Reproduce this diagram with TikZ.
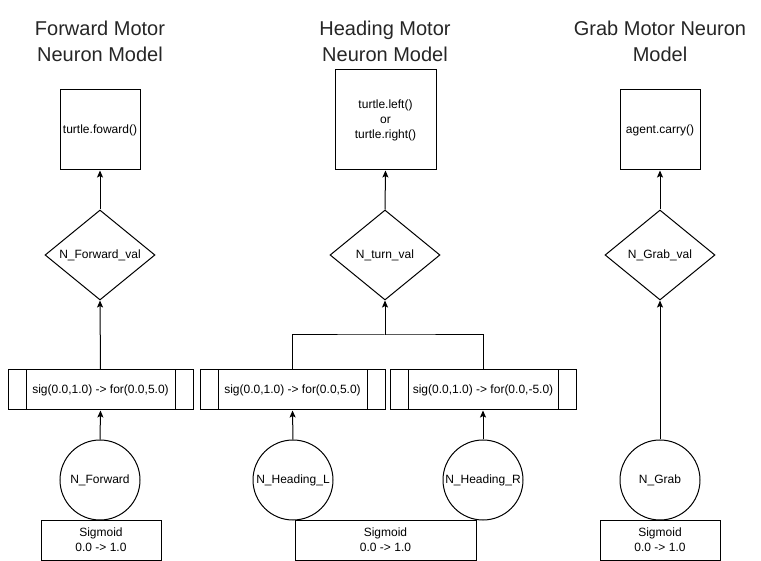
\documentclass[tikz,border=0pt]{standalone}
\usepackage{fontspec}
\setmainfont{Liberation Sans}
\usetikzlibrary{shapes.geometric,arrows.meta}
\tikzset{
  base/.style={draw=black,line width=1pt,inner sep=0pt,align=center,font=\fontsize{12}{15}\selectfont},
  title/.style={align=center,font=\fontsize{20}{26}\selectfont,text=black!85},
  outbox/.style={base,rectangle},
  valnode/.style={base,diamond,aspect=1.22,minimum width=110pt,minimum height=90pt},
  procbox/.style={base,rectangle,minimum height=40pt},
  neuron/.style={base,circle,minimum size=80pt},
  sigbox/.style={base,rectangle,minimum height=40pt},
  conn/.style={line width=1pt,draw=black},
  arr/.style={conn,-{Stealth[length=7pt,width=6pt,inset=1.5pt]}}
}
\begin{document}
\begin{tikzpicture}[x=1pt,y=-1pt]
\useasboundingbox[fill=white] (0,0) rectangle (761,561);
% titles
\node[title] (t1) at (100,41) {Forward Motor\\Neuron Model};
\node[title] (t2) at (385,41) {Heading Motor\\Neuron Model};
\node[title] (t3) at (660,41) {Grab Motor Neuron\\Model};
% output boxes
\node[outbox,minimum width=80pt,minimum height=80pt] (b1) at (100,130) {turtle.foward()};
\node[outbox,minimum width=101pt,minimum height=100pt] (b2) at (385.5,120) {turtle.left()\\or\\turtle.right()};
\node[outbox,minimum width=80pt,minimum height=80pt] (b3) at (660,130) {agent.carry()};
% value diamonds
\node[valnode] (d1) at (100,255) {N\_Forward\_val};
\node[valnode] (d2) at (385,255) {N\_turn\_val};
\node[valnode] (d3) at (660,255) {N\_Grab\_val};
% process boxes
\node[procbox,minimum width=185pt] (p1) at (100.5,390) {sig(0.0,1.0) -> for(0.0,5.0)};
\node[procbox,minimum width=185pt] (p2) at (292.5,390) {sig(0.0,1.0) -> for(0.0,5.0)};
\node[procbox,minimum width=186pt] (p3) at (483,390) {sig(0.0,1.0) -> for(0.0,-5.0)};
\foreach \p in {p1,p2,p3}{
  \draw[conn] ([xshift=18.5pt]\p.north west) -- ([xshift=18.5pt]\p.south west);
  \draw[conn] ([xshift=-18.5pt]\p.north east) -- ([xshift=-18.5pt]\p.south east);
}
% neurons
\node[neuron] (c1) at (100,480) {N\_Forward};
\node[neuron] (c2) at (293,480) {N\_Heading\_L};
\node[neuron] (c3) at (483,480) {N\_Heading\_R};
\node[neuron] (c4) at (660,480) {N\_Grab};
% sigmoid boxes
\node[sigbox,minimum width=120pt] (s1) at (101,540) {Sigmoid\\0.0 -> 1.0};
\node[sigbox,minimum width=181pt] (s2) at (385.5,540) {Sigmoid\\0.0 -> 1.0};
\node[sigbox,minimum width=120pt] (s3) at (660,540) {Sigmoid\\0.0 -> 1.0};
% connectors
\draw[arr] (d1.north) -- (b1.south);
\draw[arr] (d2.north) -- (b2.south);
\draw[arr] (d3.north) -- (b3.south);
\draw[arr] (p1.north) -- (d1.south);
\draw[arr] (c1.north) -- (p1.south);
\draw[arr] (c2.north) -- (p2.south);
\draw[arr] (c3.north) -- (p3.south);
\draw[arr] (c4.north) -- (d3.south);
\coordinate (j) at (385,335);
\draw[conn] (p2.north) |- (j) -| (p3.north);
\draw[arr] (j) -- (d2.south);
\end{tikzpicture}
\end{document}
